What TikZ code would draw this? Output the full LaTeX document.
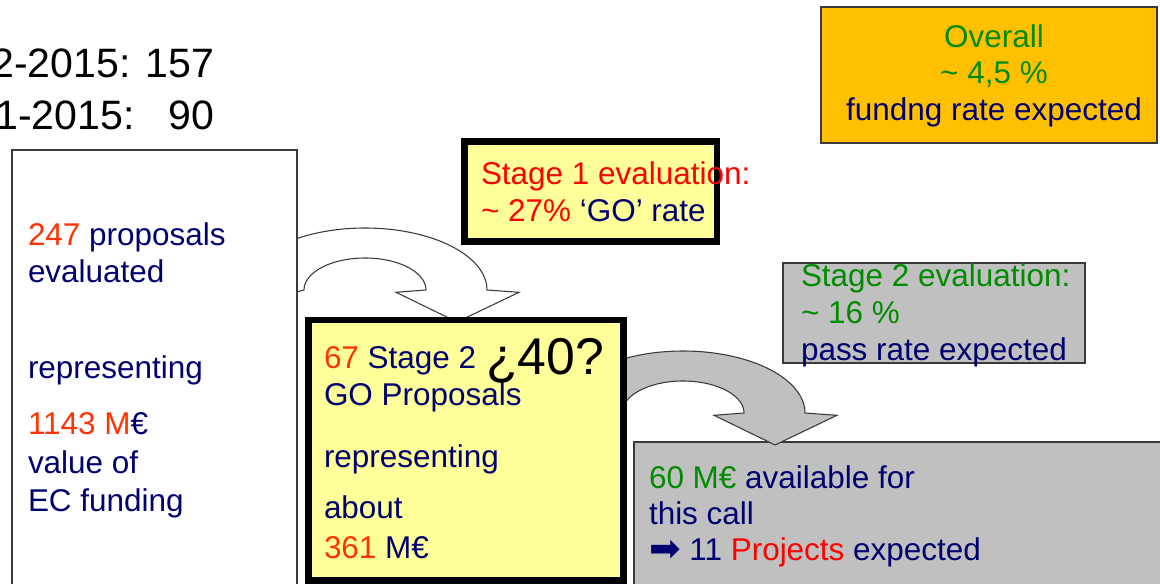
\documentclass[tikz,border=0pt]{standalone}
\usepackage{fontspec}
\setmainfont{Liberation Sans}
\newfontfamily\arrowglyph{DejaVu Sans}
\usetikzlibrary{fit}

\definecolor{navy}{HTML}{000070}
\definecolor{hotred}{HTML}{FF0000}
\definecolor{orred}{HTML}{FF3300}
\definecolor{okgreen}{HTML}{008C00}
\definecolor{paleyellow}{HTML}{FFFF99}
\definecolor{silver}{HTML}{C0C0C0}
\definecolor{amber}{HTML}{FFC000}
\definecolor{edge}{HTML}{3A3A3A}

\newcommand\bodysize{\fontsize{23.6pt}{28pt}\selectfont}
\newcommand\bigsize{\fontsize{30.8pt}{36pt}\selectfont}
\newcommand\hugesize{\fontsize{38.8pt}{44pt}\selectfont}

\tikzset{
  panel/.style={inner sep=0pt, outer sep=0pt},
  thinbox/.style={panel, draw=edge, line width=0.9pt},
  heavybox/.style={panel, draw=black, line width=4.6pt, fill=paleyellow},
  txt/.style={anchor=base west, inner sep=0pt, outer sep=0pt, font=\bodysize, text=navy},
  ctxt/.style={txt, anchor=base},
  blockarrow/.style={draw=edge, line width=0.8pt, line join=miter},
}

% curved block arrow, left end tucked under the box it leaves
\newcommand\curvedarrow[1]{%
  \path[blockarrow, #1]
    plot[domain=124:0, samples=50] ({365+122*cos(\x)},{290-62*sin(\x)})
    -- (519,292.3) -- (457,322) -- (396,292.3) -- (426,290)
    -- plot[domain=0:180, samples=50] ({365+61*cos(\x)},{290-32*sin(\x)})
    -- (297,292) -- cycle;}

\begin{document}
\begin{tikzpicture}[x=0.75pt, y=-0.75pt]
\useasboundingbox (0,0) rectangle (1160,584);

% corner points of the boxes
\coordinate (lb1) at (12,150);    \coordinate (lb2) at (297,600);
\coordinate (s1a) at (464.5,141.5); \coordinate (s1b) at (717,241.5);
\coordinate (s2a) at (308.5,320); \coordinate (s2b) at (623.5,580.5);
\coordinate (eva) at (783,263);   \coordinate (evb) at (1085,363);
\coordinate (bba) at (634,442);   \coordinate (bbb) at (1175,600);
\coordinate (ova) at (821,7);     \coordinate (ovb) at (1157,143);

% call budget box (under the second arrow tip)
\node[thinbox, fill=silver, fit=(bba)(bbb)] (budget) {};

% block arrows
\curvedarrow{fill=white}
\begin{scope}[shift={(318,123)}]
  \curvedarrow{fill=silver}
\end{scope}

% boxes
\node[thinbox, fill=white, fit=(lb1)(lb2)] (evaluated) {};
\node[heavybox, fit=(s1a)(s1b)] (stageone) {};
\node[heavybox, fit=(s2a)(s2b)] (stagetwo) {};
\node[thinbox, fill=silver, fit=(eva)(evb)] (passrate) {};
\node[thinbox, fill=amber, fit=(ova)(ovb)] (overall) {};

% counts in the top left corner
\node[txt, anchor=base east, font=\bigsize, text=black] (countA) at (214.5,78) {2-2015: 157};
\node[txt, anchor=base east, font=\bigsize, text=black] (countB) at (214.5,130) {1-2015:\hspace{0.834em}90};

% evaluated proposals
\node[txt] (ev1) at (28,246) {\textcolor{orred}{247} proposals};
\node[txt] (ev2) at (28,283) {evaluated};
\node[txt] (ev3) at (28,379) {representing};
\node[txt] (ev4) at (28,435) {\textcolor{orred}{1143 M}€};
\node[txt] (ev5) at (28,473) {value of};
\node[txt] (ev6) at (28,511) {EC funding};

% stage 1 evaluation
\node[txt, text=hotred] (so1) at (481,185) {Stage 1 evaluation:};
\node[txt] (so2) at (481,222) {\textcolor{hotred}{\textasciitilde{} 27\%} ‘GO’ rate};

% stage 2 proposals
\node[txt] (st1) at (324,369) {\textcolor{orred}{67} Stage 2};
\node[txt] (st2) at (324,406) {GO Proposals};
\node[txt] (st3) at (324,467) {representing};
\node[txt] (st4) at (324,518) {about};
\node[txt] (st5) at (324,558) {\textcolor{orred}{361} M€};
\node[txt, font=\hugesize, text=black] (query) at (486,375) {¿40?};

% stage 2 evaluation
\node[txt, text=okgreen] (pr1) at (801,287) {Stage 2 evaluation:};
\node[txt, text=okgreen] (pr2) at (801,324) {\textasciitilde{} 16 \%};
\node[txt] (pr3) at (801,361) {pass rate expected};

% call budget
\node[txt] (bu1) at (649,488) {\textcolor{okgreen}{60 M€} available for};
\node[txt] (bu2) at (649,524) {this call};
\node[txt] (bu3) at (649,560) {\raisebox{-0.04em}{\scalebox{1.2}{\arrowglyph ➡}}\ 11 \textcolor{hotred}{Projects} expected};

% overall funding rate
\node[ctxt, text=okgreen] (ov1) at (994,48) {Overall};
\node[ctxt, text=okgreen] (ov2) at (994,84) {\textasciitilde{} 4,5 \%};
\node[ctxt] (ov3) at (994,121) {fundng rate expected};
\end{tikzpicture}
\end{document}
